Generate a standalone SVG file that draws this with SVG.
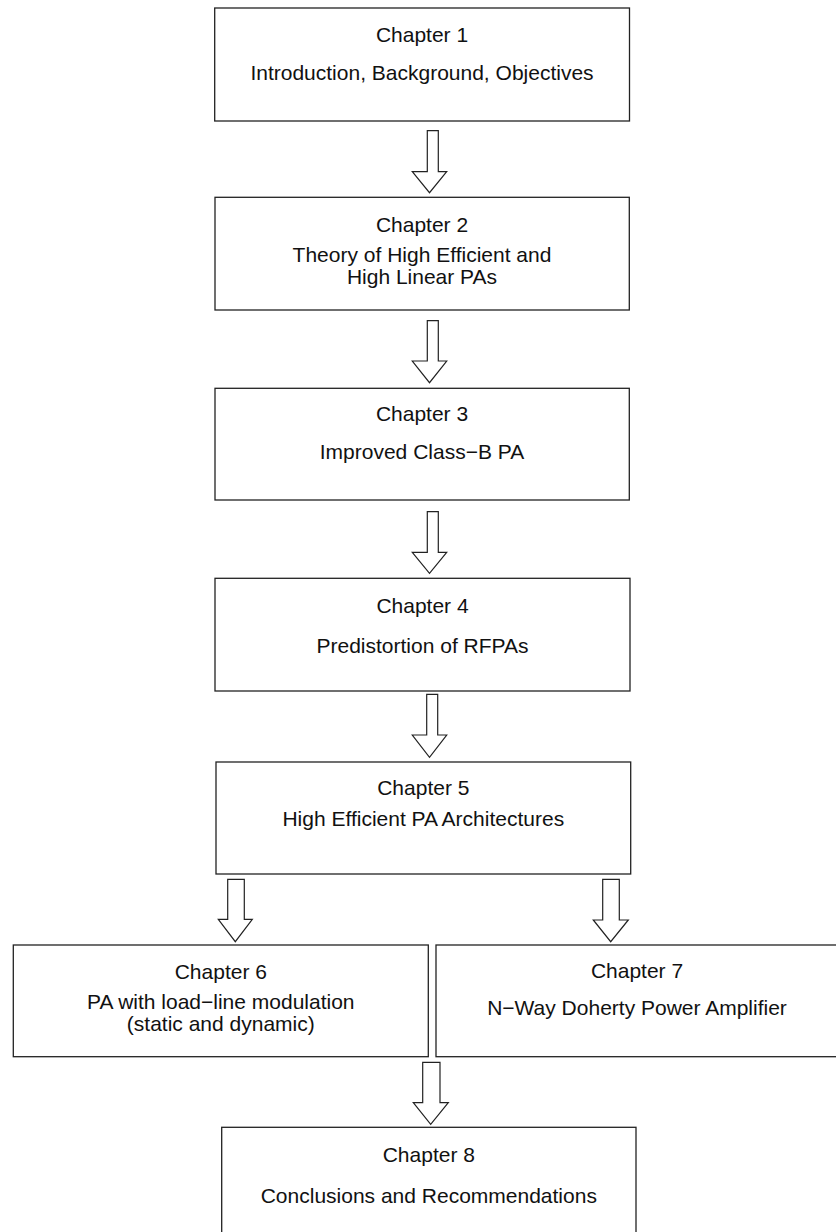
<svg xmlns="http://www.w3.org/2000/svg" width="836" height="1232" viewBox="0 0 836 1232">
<style>
.box{fill:#fff;stroke:#222;stroke-width:1.3}
.arr{fill:#fff;stroke:#222;stroke-width:1.2;stroke-linejoin:miter}
text{font-family:"Liberation Sans",Arial,sans-serif;font-size:21px;fill:#111;text-anchor:middle}
</style>
<rect width="836" height="1232" fill="#fff"/>
<g id="connectors">
<polygon class="arr" points="427.3,130.7 438.3,130.7 438.3,171.7 446.7,171.7 429.5,192.7 412.3,171.7 427.3,171.7"/>
<polygon class="arr" points="427.3,320.7 438.3,320.7 438.3,361 446.7,361 429.5,382.7 412.3,361 427.3,361"/>
<polygon class="arr" points="427.3,511.7 438.3,511.7 438.3,552.3 446.7,552.3 429.5,573.3 412.3,552.3 427.3,552.3"/>
<polygon class="arr" points="426.7,694.3 437.7,694.3 437.7,735 446.7,735 429.5,757.3 412.3,735 426.7,735"/>
<polygon class="arr" points="227.7,879.3 244.3,879.3 244.3,919.3 252.3,919.3 235.3,941.7 218.3,919.3 227.7,919.3"/>
<polygon class="arr" points="602.7,879.3 619.3,879.3 619.3,920 628.3,920 610.7,941.7 593.3,920 602.7,920"/>
<polygon class="arr" points="422.7,1062.3 440,1062.3 440,1102.7 448.3,1102.7 430.7,1124.3 413.3,1102.7 422.7,1102.7"/>
</g>
<g id="ch1">
<rect class="box" x="214.7" y="8" width="414.8" height="113"/>
<text x="422" y="42">Chapter 1</text>
<text x="422" y="80">Introduction, Background, Objectives</text>
</g>
<g id="ch2">
<rect class="box" x="215" y="197.3" width="414.3" height="112.7"/>
<text x="422" y="231.7">Chapter 2</text>
<text x="422" y="261.7">Theory of High Efficient and</text>
<text x="422" y="284.3">High Linear PAs</text>
</g>
<g id="ch3">
<rect class="box" x="215" y="388.3" width="414.3" height="111.7"/>
<text x="422" y="420.7">Chapter 3</text>
<text x="422" y="459">Improved Class&#8722;B PA</text>
</g>
<g id="ch4">
<rect class="box" x="215" y="578.3" width="415" height="112.7"/>
<text x="422.5" y="613.3">Chapter 4</text>
<text x="422.5" y="653.3">Predistortion of RFPAs</text>
</g>
<g id="ch5">
<rect class="box" x="216" y="762" width="414.7" height="112"/>
<text x="423.3" y="795">Chapter 5</text>
<text x="423.3" y="825.7">High Efficient PA Architectures</text>
</g>
<g id="ch6">
<rect class="box" x="13.3" y="945" width="415" height="111.7"/>
<text x="220.8" y="979">Chapter 6</text>
<text x="220.8" y="1009">PA with load&#8722;line modulation</text>
<text x="220.8" y="1031">(static and dynamic)</text>
</g>
<g id="ch7">
<rect class="box" x="436" y="945" width="404" height="111.7"/>
<text x="637" y="978.3">Chapter 7</text>
<text x="637" y="1015">N&#8722;Way Doherty Power Amplifier</text>
</g>
<g id="ch8">
<rect class="box" x="221.7" y="1127.3" width="414.3" height="112"/>
<text x="428.8" y="1161.7">Chapter 8</text>
<text x="428.8" y="1202.7">Conclusions and Recommendations</text>
</g>
</svg>
